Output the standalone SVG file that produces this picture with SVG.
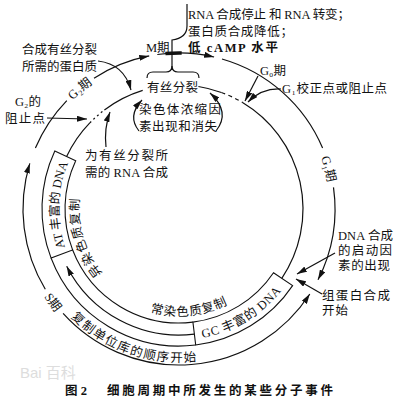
<svg xmlns="http://www.w3.org/2000/svg" width="400" height="404" viewBox="0 0 400 404">
<defs>
<style>
text{font-family:"Liberation Serif","Noto Sans CJK SC",serif;font-size:12.5px;fill:#111}
.ln{fill:none;stroke:#111;stroke-width:1.2}
.bx{fill:none;stroke:#111;stroke-width:1.1}
.cap{font-weight:bold;font-size:12.5px}
.wm{font-family:"Liberation Sans","Noto Sans CJK SC",sans-serif;font-size:15px;fill:#ddd}
</style>
<marker id="ar" viewBox="0 0 10 6" refX="10" refY="3" markerWidth="10" markerHeight="6" markerUnits="userSpaceOnUse" orient="auto-start-reverse">
<path d="M0,0 L10,3 L0,6 Z" fill="#111"/>
</marker>
<path id="pS" d="M39.6,289.5 A161,161 0 0 0 61.2,318.8"/>
<path id="pRep" d="M70.8,317.2 A153,153 0 0 0 210.8,358.7"/>
<path id="pChang" d="M150.3,312.1 A107,107 0 0 0 232.5,301.7"/>
<path id="pYi" d="M102.4,273.3 A100,100 0 0 1 80.5,191.6"/>
<path id="pAT" d="M67.7,254 A120,120 0 0 1 71.1,156.4"/>
<path id="pGC" d="M197.2,338.7 A131,131 0 0 0 285,286"/>
<path id="pG2" d="M66,107.3 A152,152 0 0 1 100.7,78.7"/>
<path id="pG1" d="M315.9,145.2 A151,151 0 0 1 329.4,195.8"/>
</defs>
<rect width="400" height="404" fill="#fff"/>

<g id="connectors">
<path class="ln" d="M35.4,148.1 A156,156 0 0 1 66.8,100.6"/>
<path class="ln" d="M94,78.2 A156,156 0 0 1 149.2,55.9" marker-end="url(#ar)"/>
<path class="ln" d="M157.3,54.5 A156,156 0 0 1 214.1,57" marker-end="url(#ar)"/>
<path d="M165.4,53.6 A156,156 0 0 1 181.7,53" fill="none" stroke="#111" stroke-width="3.5"/>
<path class="ln" d="M222,59 A156,156 0 0 1 322.6,148.1"/>
<path class="ln" d="M333.5,187.3 A156,156 0 0 1 318,279.8" marker-end="url(#ar)"/>
<path class="ln" d="M309.8,294 A156,156 0 0 1 63.1,313.4" marker-start="url(#ar)"/>
<path class="ln" d="M45.3,289.3 A156,156 0 0 1 29.8,163.4" marker-end="url(#ar)"/>
<path class="ln" d="M66.6,156.6 A124,124 0 0 1 89.8,122.9"/>
<path class="ln" d="M89.8,122.9 A124,124 0 0 1 104.4,110" stroke-dasharray="2 3"/>
<path class="ln" d="M104.4,110 A124,124 0 0 1 142.7,90.4"/>
<path class="ln" d="M198.4,86.5 A124,124 0 0 1 221.4,92.5"/>
<path class="ln" d="M221.4,92.5 A124,124 0 0 1 242.9,102.7" stroke-dasharray="4 3.5"/>
<path class="ln" d="M242.9,102.7 A124,124 0 0 1 281.8,278.3"/>
<path class="ln" d="M195.7,345 A137,137 0 0 1 51.1,258.1"/>
<path class="ln" d="M194.4,334.1 A126,126 0 0 1 66.7,266.2" marker-end="url(#ar)"/>
<path class="ln" d="M192.9,322.1 A114,114 0 0 1 72.6,249.9"/>
<path class="ln" d="M187,4 L187,26 Q187,38 172,40 L172,68"/>
<path class="ln" d="M147,78 Q147,72 153,72 L166,72 Q172,72 172,66 Q172,72 178,72 L193,72 Q199,72 199,78"/>
<path class="ln" d="M98,61 Q124,64 131,90" marker-end="url(#ar)"/>
<path class="ln" d="M47,118 L87,119" marker-end="url(#ar)"/>
<path class="ln" d="M106,147 Q104,128 110,112" marker-end="url(#ar)"/>
<path class="ln" d="M139,131 Q127,116 142,100" marker-end="url(#ar)"/>
<path class="ln" d="M216,131 Q231,112 210,93" marker-end="url(#ar)"/>
<path class="ln" d="M258,76 L245,101" marker-end="url(#ar)"/>
<path class="ln" d="M281,89 Q262,88 248,102" marker-end="url(#ar)"/>
<path class="ln" d="M335,253 L297,274" marker-end="url(#ar)"/>
<path class="ln" d="M322,294 L296,279" marker-end="url(#ar)"/>
</g>

<g id="at-box">
<path class="bx" d="M51.1,258.1 A137,137 0 0 1 54.8,151.1 L75.7,160.8 A114,114 0 0 0 72.6,249.9 Z"/>
<text font-size="11.5"><textPath href="#pAT" startOffset="50%" text-anchor="middle">AT 丰富的 DNA</textPath></text>
</g>
<g id="gc-box">
<path class="bx" d="M273.5,272.7 L292.6,285.6 A137,137 0 0 1 195.7,345 L192.9,322.1 A114,114 0 0 0 273.5,272.7 Z"/>
<text font-size="11.5" letter-spacing="0.6"><textPath href="#pGC" startOffset="50%" text-anchor="middle">GC 丰富的 DNA</textPath></text>
</g>

<g id="top-note">
<text x="188" y="19" textLength="162" lengthAdjust="spacing">RNA 合成停止 和 RNA 转变；</text>
<text x="188" y="36" textLength="105" lengthAdjust="spacing">蛋白质合成降低；</text>
<text x="188" y="52" textLength="90" lengthAdjust="spacing" font-weight="bold">低 cAMP 水平</text>
</g>
<g id="m-phase"><text x="146" y="52" font-size="13">M期</text></g>
<g id="mitosis-protein">
<text x="22" y="54" textLength="75" lengthAdjust="spacing">合成有丝分裂</text>
<text x="22" y="71" textLength="75" lengthAdjust="spacing">所需的蛋白质</text>
</g>
<g id="g2-checkpoint">
<text x="15" y="106" font-size="13">G₂的</text>
<text x="5" y="123" textLength="40" lengthAdjust="spacing">阻止点</text>
</g>
<g id="g2-phase"><text><textPath href="#pG2" startOffset="50%" text-anchor="middle">G₂期</textPath></text></g>
<g id="mitosis"><text x="147" y="92" textLength="51" lengthAdjust="spacing">有丝分裂</text></g>
<g id="chromosome">
<text x="139" y="114" textLength="82" lengthAdjust="spacing">染色体浓缩因</text>
<text x="139" y="131" textLength="78" lengthAdjust="spacing">素出现和消失</text>
</g>
<g id="rna-synthesis">
<text x="85" y="160" textLength="83" lengthAdjust="spacing">为有丝分裂所</text>
<text x="85" y="177" textLength="83" lengthAdjust="spacing">需的 RNA 合成</text>
</g>
<g id="g0"><text x="260" y="75" font-size="13">G₀期</text></g>
<g id="g1-checkpoint"><text x="282" y="93" textLength="105" lengthAdjust="spacing">G₁校正点或阻止点</text></g>
<g id="g1-phase"><text><textPath href="#pG1" startOffset="50%" text-anchor="middle">G₁期</textPath></text></g>
<g id="dna-start">
<text x="338" y="240" textLength="55" lengthAdjust="spacing">DNA 合成</text>
<text x="338" y="255" textLength="54" lengthAdjust="spacing">的启动因</text>
<text x="338" y="270" textLength="52" lengthAdjust="spacing">素的出现</text>
</g>
<g id="histone">
<text x="322" y="300" textLength="68" lengthAdjust="spacing">组蛋白合成</text>
<text x="322" y="315" textLength="26" lengthAdjust="spacing">开始</text>
</g>
<g id="s-phase">
<text><textPath href="#pS" startOffset="50%" text-anchor="middle">S期</textPath></text>
<text letter-spacing="1.4"><textPath href="#pRep">复制单位库的顺序开始</textPath></text>
</g>
<g id="euchromatin"><text font-size="12" letter-spacing="0.8"><textPath href="#pChang">常染色质复制</textPath></text></g>
<g id="heterochromatin"><text letter-spacing="1"><textPath href="#pYi">异染色质复制</textPath></text></g>

<g id="watermark"><text class="wm" x="20" y="378">Bai 百科</text></g>
<g id="caption">
<text class="cap" x="65" y="395">图 2</text>
<text class="cap" x="107" y="395" textLength="226" lengthAdjust="spacing">细胞周期中所发生的某些分子事件</text>
</g>
</svg>
